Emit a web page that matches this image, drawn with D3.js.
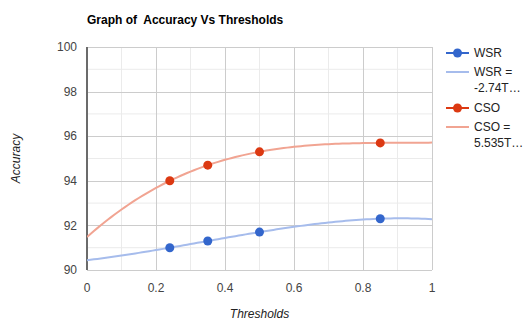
<!DOCTYPE html>
<html>
<head>
<meta charset="utf-8">
<script src="https://cdn.jsdelivr.net/npm/d3@7"></script>
<style>
  body { margin: 0; background: #fff; }
  text { font-family: Arial, "Liberation Sans", sans-serif; }
</style>
</head>
<body>
<div id="chart"></div>
<script>
// Data
const thresholds = [0.24, 0.35, 0.5, 0.85];
const wsrAcc = [91.0, 91.3, 91.7, 92.3];
const csoAcc = [94.0, 94.7, 95.3, 95.7];
const xTicks = [0, 0.2, 0.4, 0.6, 0.8, 1];
const yTicks = [90, 92, 94, 96, 98, 100];
const legendLabels = [["WSR"], ["WSR =", "-2.74T\u2026"], ["CSO"], ["CSO =", "5.535T\u2026"]];

const W = 524, H = 322;
const margin = {top: 47, right: 92, bottom: 52, left: 87};

const svg = d3.select("#chart").append("svg")
  .attr("width", W).attr("height", H);

const x = d3.scaleLinear().domain([0, 1]).range([margin.left, W - margin.right]);
const y = d3.scaleLinear().domain([90, 100]).range([H - margin.bottom, margin.top]);

// minor gridlines
const minorX = d3.range(0.1, 1, 0.2);
const minorY = d3.range(91, 100, 2);
svg.append("g").selectAll("line").data(minorX).enter().append("line")
  .attr("x1", d => x(d)).attr("x2", d => x(d))
  .attr("y1", y(90)).attr("y2", y(100))
  .attr("stroke", "#ebebeb");
svg.append("g").selectAll("line").data(minorY).enter().append("line")
  .attr("x1", x(0)).attr("x2", x(1))
  .attr("y1", d => y(d)).attr("y2", d => y(d))
  .attr("stroke", "#ebebeb");

// major gridlines
svg.append("g").selectAll("line").data(xTicks).enter().append("line")
  .attr("x1", d => Math.round(x(d)) + 0.5).attr("x2", d => Math.round(x(d)) + 0.5)
  .attr("y1", y(90)).attr("y2", y(100))
  .attr("stroke", "#cccccc");
svg.append("g").selectAll("line").data(yTicks).enter().append("line")
  .attr("x1", x(0)).attr("x2", x(1))
  .attr("y1", d => Math.round(y(d)) + 0.5).attr("y2", d => Math.round(y(d)) + 0.5)
  .attr("stroke", "#cccccc");

// baseline at x = 0
svg.append("line")
  .attr("x1", x(0)).attr("x2", x(0))
  .attr("y1", y(90)).attr("y2", y(100))
  .attr("stroke", "#6b6b6b").attr("stroke-width", 2);

// tick labels
svg.append("g").selectAll("text").data(yTicks).enter().append("text")
  .attr("x", x(0) - 10).attr("y", d => y(d)).attr("dy", "0.35em")
  .attr("text-anchor", "end").attr("font-size", 12).attr("fill", "#444")
  .text(d => d);
svg.append("g").selectAll("text").data(xTicks).enter().append("text")
  .attr("x", d => x(d)).attr("y", y(90) + 18).attr("dy", "0.35em")
  .attr("text-anchor", "middle").attr("font-size", 12).attr("fill", "#444")
  .text(d => d);

// title and axis titles
svg.append("text").attr("x", x(0)).attr("y", 24)
  .attr("font-size", 12).attr("font-weight", "bold").attr("fill", "#000")
  .style("white-space", "pre").text("Graph of  Accuracy Vs Thresholds");
svg.append("text").attr("transform", "translate(20," + y(95) + ")rotate(-90)")
  .attr("text-anchor", "middle").attr("font-size", 12).attr("font-style", "italic")
  .attr("fill", "#222").text("Accuracy");
svg.append("text").attr("x", x(0.5)).attr("y", 318)
  .attr("text-anchor", "middle").attr("font-size", 12).attr("font-style", "italic")
  .attr("fill", "#222").text("Thresholds");

// cubic trendline (least squares fit, as the chart's polynomial trendline)
function polyFit(xs, ys, deg) {
  const n = deg + 1;
  const A = d3.range(n).map(i => d3.range(n + 1).map(j => 0));
  xs.forEach((xv, k) => {
    for (let i = 0; i < n; i++) {
      for (let j = 0; j < n; j++) A[i][j] += Math.pow(xv, i + j);
      A[i][n] += ys[k] * Math.pow(xv, i);
    }
  });
  for (let i = 0; i < n; i++) {
    let p = i;
    for (let r = i + 1; r < n; r++) if (Math.abs(A[r][i]) > Math.abs(A[p][i])) p = r;
    [A[i], A[p]] = [A[p], A[i]];
    for (let r = 0; r < n; r++) {
      if (r === i) continue;
      const f = A[r][i] / A[i][i];
      for (let c = i; c <= n; c++) A[r][c] -= f * A[i][c];
    }
  }
  const coef = A.map((row, i) => row[n] / row[i]);
  return t => coef.reduce((s, c, i) => s + c * Math.pow(t, i), 0);
}

const series = [
  {name: "WSR", values: wsrAcc, color: "#3366cc", trend: "#a6bcec"},
  {name: "CSO", values: csoAcc, color: "#dc3912", trend: "#f1a492"}
];

const clip = svg.append("clipPath").attr("id", "clip").append("rect")
  .attr("x", x(0)).attr("y", y(100)).attr("width", x(1) - x(0)).attr("height", y(90) - y(100));

const line = d3.line().x(d => x(d[0])).y(d => y(d[1]));
const samples = d3.range(0, 1.0001, 0.01);

series.forEach(s => {
  const f = polyFit(thresholds, s.values, 3);
  svg.append("path")
    .datum(samples.map(t => [t, f(t)]))
    .attr("clip-path", "url(#clip)")
    .attr("fill", "none").attr("stroke", s.trend).attr("stroke-width", 2)
    .attr("d", line);
  svg.append("g").selectAll("circle").data(thresholds).enter().append("circle")
    .attr("cx", d => x(d)).attr("cy", (d, i) => y(s.values[i]))
    .attr("r", 4.5).attr("fill", s.color);
});

// legend
const legendY = [53, 72, 108, 127];
const legendColors = ["#3366cc", "#a6bcec", "#dc3912", "#f1a492"];
const lg = svg.append("g");
legendLabels.forEach((lines, i) => {
  lg.append("line").attr("x1", 446).attr("x2", 469)
    .attr("y1", legendY[i]).attr("y2", legendY[i])
    .attr("stroke", legendColors[i]).attr("stroke-width", 2);
  if (i % 2 === 0) {
    lg.append("circle").attr("cx", 457.5).attr("cy", legendY[i]).attr("r", 4.5)
      .attr("fill", legendColors[i]);
  }
  lines.forEach((t, j) => {
    lg.append("text").attr("x", 474).attr("y", legendY[i] + j * 16).attr("dy", "0.35em")
      .attr("font-size", 12).attr("fill", "#222").text(t);
  });
});
</script>
</body>
</html>
